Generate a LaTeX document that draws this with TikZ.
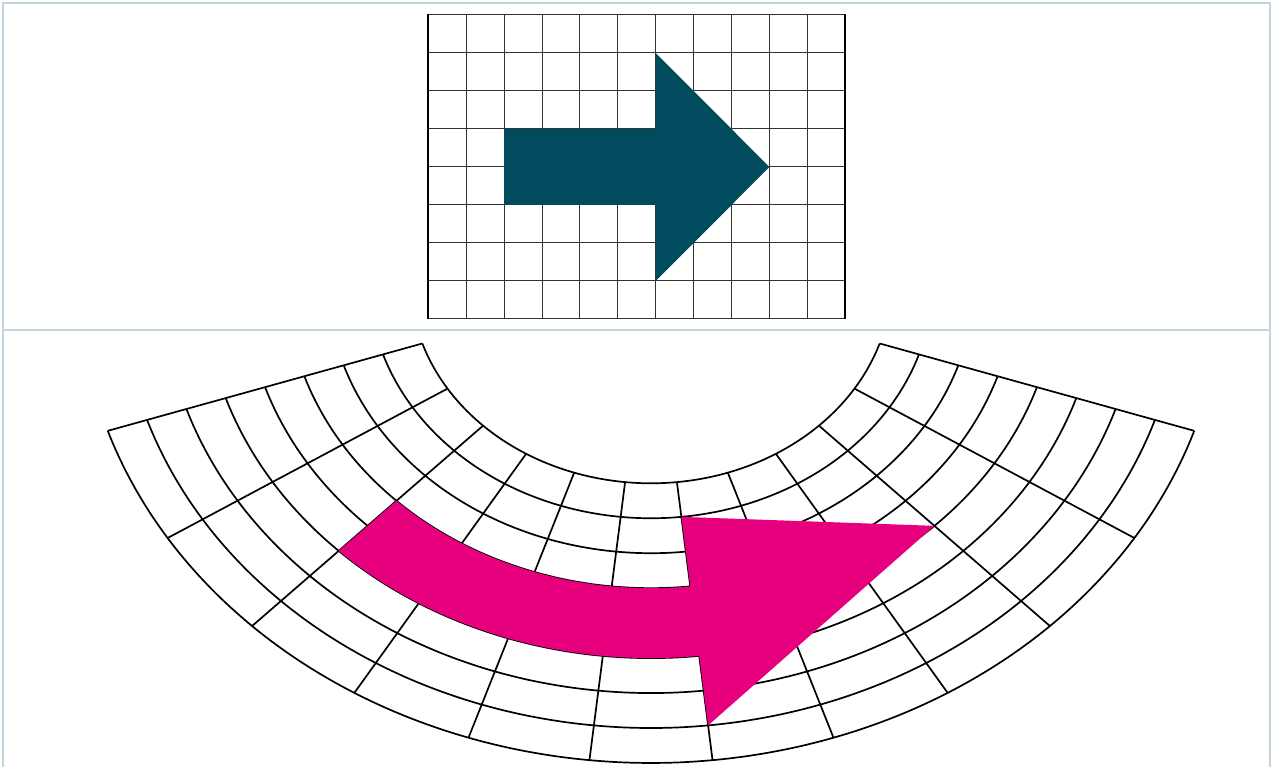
\documentclass[tikz,border=0pt]{standalone}
\definecolor{framec}{RGB}{196,213,223}
\definecolor{arrowteal}{RGB}{0,75,94}
\definecolor{arrowpink}{RGB}{230,0,126}
\tikzset{
  framestyle/.style={draw=framec, line width=2pt},
  topgrid/.style={draw=black!80, line width=1pt},
  topborder/.style={draw=black, line width=2pt},
  botgrid/.style={draw=black, line width=1.7pt, line join=round},
}
\begin{document}
\begin{tikzpicture}[x=1pt,y=-1pt,
  declare function={th(\p)=12.356*(\p-5.5)+0.0231*(\p-5.5)^3; rr(\q)=203.3+34.96*\q;}]
\useasboundingbox (0,0) rectangle (1277,767);
% frame
\draw[framestyle] (3.3,770) -- (3.3,3.3) -- (1270,3.3) -- (1270,770);
\draw[framestyle] (3.3,330) -- (1270,330);
% top grid
\foreach \i in {1,...,10} \draw[topgrid] ({428.3+37.9*\i},15) -- ({428.3+37.9*\i},319);
\foreach \j in {0,...,8} \draw[topgrid] (428.3,{15+38*\j}) -- (845.2,{15+38*\j});
\draw[topborder] (428.3,14.5) -- (428.3,319.5);
\draw[topborder] (845.2,14.5) -- (845.2,319.5);
% top arrow
\fill[arrowteal] (504.1,129) -- (655.7,129) -- (655.7,53) -- (769.4,167) -- (655.7,281) -- (655.7,205) -- (504.1,205) -- cycle;
% bottom grid coordinates
\foreach \i in {0,...,11}{
  \foreach \j in {0,...,8}{
    \coordinate (g-\i-\j) at ({651+1.184*rr(\j)*sin(th(\i))},{280+rr(\j)*cos(th(\i))});
  }
}
\foreach \i in {0,...,11} \draw[botgrid] (g-\i-0) -- (g-\i-8);
\foreach \j in {0,...,8}
  \draw[botgrid] plot[domain=-71.801:71.801, samples=120, smooth, variable=\t]
    ({651+1.184*rr(\j)*sin(\t)},{280+rr(\j)*cos(\t)});
% pink arrow
\fill[arrowpink] plot[domain=-44.236:6.181, samples=50, smooth, variable=\t]
    ({651+1.184*rr(3)*sin(\t)},{280+rr(3)*cos(\t)})
  -- (g-6-1) -- (g-9-4) -- (g-6-7)
  -- plot[domain=6.181:-44.236, samples=50, smooth, variable=\t]
    ({651+1.184*rr(5)*sin(\t)},{280+rr(5)*cos(\t)})
  -- cycle;
\end{tikzpicture}
\end{document}
